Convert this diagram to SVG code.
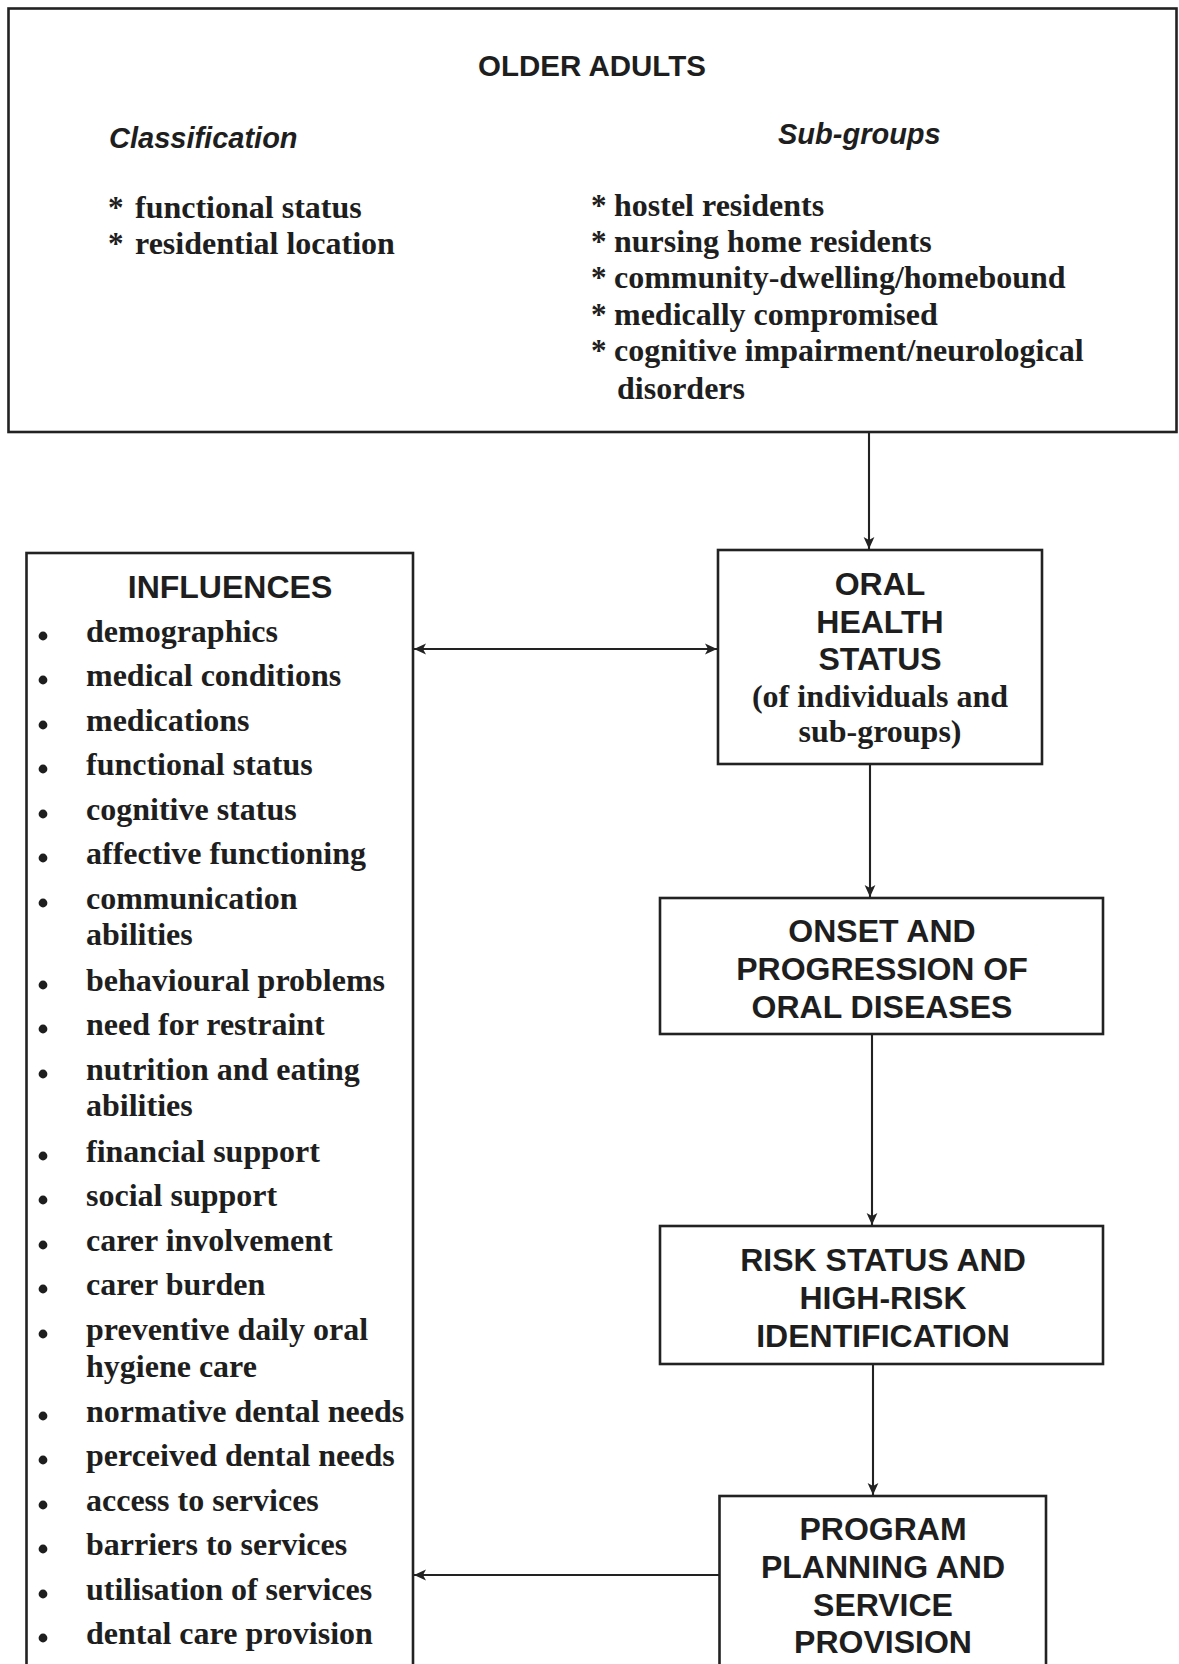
<svg xmlns="http://www.w3.org/2000/svg" width="1179" height="1664" viewBox="0 0 1179 1664">
<style>
.box{fill:#fff;stroke:#222;stroke-width:2.6}
.hd{font-family:"Liberation Sans",Arial,sans-serif;font-weight:bold;fill:#1e1e1e}
.h32{font-size:32px}
.h29{font-size:29.5px}
.it{font-family:"Liberation Sans",Arial,sans-serif;font-weight:bold;font-style:italic;font-size:29px;fill:#1e1e1e}
.tx{font-family:"Liberation Serif","Times New Roman",serif;font-weight:bold;font-size:32px;fill:#1e1e1e}
.st{font-family:"Liberation Serif","Times New Roman",serif;font-weight:bold;font-size:31px;fill:#1e1e1e}
.mid{text-anchor:middle}
.con{stroke:#222;stroke-width:2.1;fill:none}
</style>
<defs>
<marker id="ah" viewBox="0 0 10 10" refX="10" refY="5" markerWidth="12" markerHeight="12" markerUnits="userSpaceOnUse" orient="auto-start-reverse">
<path d="M0,0.5 L10,5 L0,9.5 L2.5,5 z" fill="#222"/>
</marker>
</defs>
<rect width="1179" height="1664" fill="#fff"/>

<g id="older-adults">
<rect class="box" x="8.5" y="8.5" width="1168" height="423.5"/>
<text class="hd h29 mid" x="592" y="76">OLDER ADULTS</text>
<text class="it" x="109" y="148">Classification</text>
<text class="it" x="778" y="144">Sub-groups</text>
<text class="st" x="108" y="218">*</text><text class="tx" x="135" y="218">functional status</text>
<text class="st" x="108" y="254">*</text><text class="tx" x="135" y="254">residential location</text>
<text class="st" x="591" y="216">*</text><text class="tx" x="614" y="216">hostel residents</text>
<text class="st" x="591" y="252">*</text><text class="tx" x="614" y="252">nursing home residents</text>
<text class="st" x="591" y="288">*</text><text class="tx" x="614" y="288">community-dwelling/homebound</text>
<text class="st" x="591" y="325">*</text><text class="tx" x="614" y="325">medically compromised</text>
<text class="st" x="591" y="361">*</text><text class="tx" x="614" y="361">cognitive impairment/neurological</text>
<text class="tx" x="617" y="399">disorders</text>
</g>

<g id="influences">
<rect class="box" x="26.5" y="553" width="386.5" height="1130"/>
<text class="hd h32 mid" x="230" y="598">INFLUENCES</text>
<g fill="#1e1e1e">
<circle cx="43" cy="636" r="4.4"/>
<circle cx="43" cy="680" r="4.4"/>
<circle cx="43" cy="725" r="4.4"/>
<circle cx="43" cy="769" r="4.4"/>
<circle cx="43" cy="814" r="4.4"/>
<circle cx="43" cy="858" r="4.4"/>
<circle cx="43" cy="903" r="4.4"/>
<circle cx="43" cy="985" r="4.4"/>
<circle cx="43" cy="1029" r="4.4"/>
<circle cx="43" cy="1074" r="4.4"/>
<circle cx="43" cy="1156" r="4.4"/>
<circle cx="43" cy="1200" r="4.4"/>
<circle cx="43" cy="1245" r="4.4"/>
<circle cx="43" cy="1289" r="4.4"/>
<circle cx="43" cy="1334" r="4.4"/>
<circle cx="43" cy="1416" r="4.4"/>
<circle cx="43" cy="1460" r="4.4"/>
<circle cx="43" cy="1505" r="4.4"/>
<circle cx="43" cy="1549" r="4.4"/>
<circle cx="43" cy="1594" r="4.4"/>
<circle cx="43" cy="1638" r="4.4"/>
</g>
<text class="tx" x="86" y="642">demographics</text>
<text class="tx" x="86" y="686">medical conditions</text>
<text class="tx" x="86" y="731">medications</text>
<text class="tx" x="86" y="775">functional status</text>
<text class="tx" x="86" y="820">cognitive status</text>
<text class="tx" x="86" y="864">affective functioning</text>
<text class="tx" x="86" y="909">communication</text>
<text class="tx" x="86" y="945">abilities</text>
<text class="tx" x="86" y="991">behavioural problems</text>
<text class="tx" x="86" y="1035">need for restraint</text>
<text class="tx" x="86" y="1080">nutrition and eating</text>
<text class="tx" x="86" y="1116">abilities</text>
<text class="tx" x="86" y="1162">financial support</text>
<text class="tx" x="86" y="1206">social support</text>
<text class="tx" x="86" y="1251">carer involvement</text>
<text class="tx" x="86" y="1295">carer burden</text>
<text class="tx" x="86" y="1340">preventive daily oral</text>
<text class="tx" x="86" y="1377">hygiene care</text>
<text class="tx" x="86" y="1422">normative dental needs</text>
<text class="tx" x="86" y="1466">perceived dental needs</text>
<text class="tx" x="86" y="1511">access to services</text>
<text class="tx" x="86" y="1555">barriers to services</text>
<text class="tx" x="86" y="1600">utilisation of services</text>
<text class="tx" x="86" y="1644">dental care provision</text>
</g>

<g id="oral-health-status">
<rect class="box" x="718" y="550" width="324" height="214"/>
<text class="hd h32 mid" x="880" y="595">ORAL</text>
<text class="hd h32 mid" x="880" y="633">HEALTH</text>
<text class="hd h32 mid" x="880" y="670">STATUS</text>
<text class="tx mid" x="880" y="707">(of individuals and</text>
<text class="tx mid" x="880" y="742">sub-groups)</text>
</g>

<g id="onset-progression">
<rect class="box" x="660" y="898" width="443" height="136"/>
<text class="hd h32 mid" x="882" y="942">ONSET AND</text>
<text class="hd h32 mid" x="882" y="980">PROGRESSION OF</text>
<text class="hd h32 mid" x="882" y="1018">ORAL DISEASES</text>
</g>

<g id="risk-status">
<rect class="box" x="660" y="1226" width="443" height="138"/>
<text class="hd h32 mid" x="883" y="1271">RISK STATUS AND</text>
<text class="hd h32 mid" x="883" y="1309">HIGH-RISK</text>
<text class="hd h32 mid" x="883" y="1347">IDENTIFICATION</text>
</g>

<g id="program-planning">
<rect class="box" x="719.5" y="1496" width="326.5" height="200"/>
<text class="hd h32 mid" x="883" y="1540">PROGRAM</text>
<text class="hd h32 mid" x="883" y="1578">PLANNING AND</text>
<text class="hd h32 mid" x="883" y="1616">SERVICE</text>
<text class="hd h32 mid" x="883" y="1653">PROVISION</text>
</g>

<g id="connectors">
<path class="con" d="M869,433 L869,549" marker-end="url(#ah)"/>
<path class="con" d="M870,765 L870,897" marker-end="url(#ah)"/>
<path class="con" d="M872,1035 L872,1225" marker-end="url(#ah)"/>
<path class="con" d="M873,1365 L873,1495" marker-end="url(#ah)"/>
<path class="con" d="M414,649 L717,649" marker-start="url(#ah)" marker-end="url(#ah)"/>
<path class="con" d="M719,1575 L414,1575" marker-end="url(#ah)"/>
</g>
</svg>
